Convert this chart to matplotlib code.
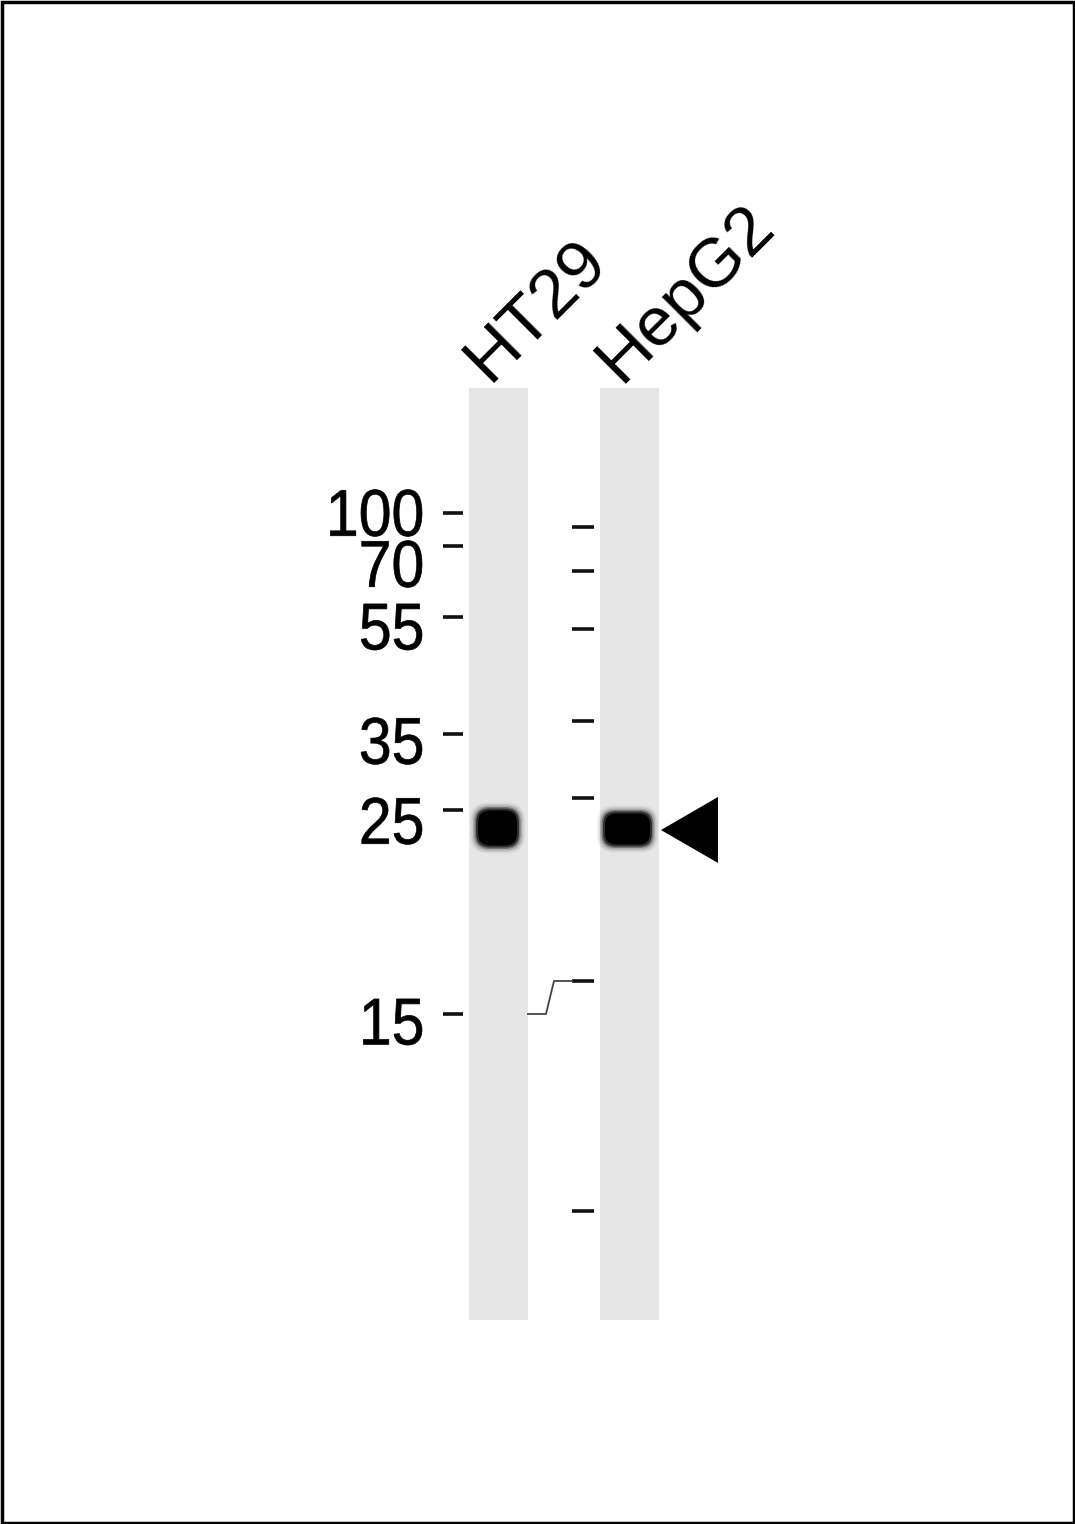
import matplotlib.pyplot as plt
from matplotlib.patches import Rectangle, FancyBboxPatch, Polygon, PathPatch
from matplotlib.textpath import TextPath
from matplotlib.font_manager import FontProperties
from matplotlib.transforms import Affine2D

# lanes
lane_names = ['HT29', 'HepG2']
lane_x = [469, 600]          # left edge of each lane (px)
lane_w = 59
lane_top, lane_bottom = 388, 1320

# molecular weight marker (left side, with labels)
mw_labels = ['100', '70', '55', '35', '25', '15']
mw_tick_y = [513, 546, 617, 734, 810, 1014]
mw_text_y = [513, 564, 627, 741, 821, 1022]

# marker ticks of second lane (unlabelled)
right_tick_y = [527, 571, 629, 721, 798, 981, 1211]

# bands: (lane index, centre y, width, height)
band_lane = [0, 1]
band_y = [828, 829]
band_w = [43, 49]
band_h = [39, 35]

W, H = 1075, 1524
fig = plt.figure(figsize=(W / 100, H / 100), dpi=100)
ax = fig.add_axes([0, 0, 1, 1])
ax.set_xlim(0, W)
ax.set_ylim(H, 0)
ax.axis('off')

font = 'Liberation Sans'
fp = FontProperties(family=font)


def stretched_text(x_right, y_mid, s, size=59, sy=1.12):
    # text as a path, right aligned, slightly taller than normal
    tp = TextPath((0, 0), s, size=size, prop=fp)
    bb = tp.get_extents()
    tr = (Affine2D().translate(-bb.x1, -(bb.y0 + bb.y1) / 2)
          .scale(1, -sy).translate(x_right, y_mid))
    ax.add_patch(PathPatch(tr.transform_path(tp), fc='black', ec='black', lw=0.5))


# frame
ax.add_patch(Rectangle((1.5, 1.5), W - 3, H - 3, fill=False, ec='black', lw=2.5))

# lanes
for x in lane_x:
    ax.add_patch(Rectangle((x, lane_top), lane_w, lane_bottom - lane_top,
                           fc='#e6e6e6', ec='none'))

# lane labels
for x, name in zip(lane_x, lane_names):
    ax.text(x + 20, lane_top - 4, name, rotation=45, rotation_mode='anchor',
            ha='left', va='baseline', fontsize=50, family=font)

# bands, drawn as stacked soft boxes
for li, y, w, h in zip(band_lane, band_y, band_w, band_h):
    cx = lane_x[li] + lane_w / 2 - (1 if li == 0 else 2)
    for grow, a in [(12, 0.05), (9, 0.08), (6, 0.15), (3, 0.3), (0, 0.6), (-4, 1.0)]:
        ww, hh = w + grow, h + grow
        pad = min(ww, hh) * 0.36
        ax.add_patch(FancyBboxPatch((cx - ww / 2 + pad, y - hh / 2 + pad),
                                    ww - 2 * pad, hh - 2 * pad,
                                    boxstyle='round,pad=%g' % pad,
                                    fc='black', ec='none', alpha=a))

# left marker ticks and labels
for lab, ty, yy in zip(mw_labels, mw_tick_y, mw_text_y):
    ax.plot([443, 463], [ty, ty], color='#111111', lw=2.6, solid_capstyle='butt')
    stretched_text(422, yy, lab)

# right marker ticks
for ty in right_tick_y:
    ax.plot([572, 594], [ty, ty], color='#111111', lw=2.6, solid_capstyle='butt')

# connector between the 15 kDa marks
ax.plot([528, 546, 554, 572], [mw_tick_y[-1], mw_tick_y[-1], right_tick_y[5], right_tick_y[5]],
        color='#444444', lw=1.3)

# arrowhead pointing to band
ax.add_patch(Polygon([[661, 830], [718, 797], [718, 863]], closed=True,
                     fc='black', ec='none'))

fig.savefig('out.png', dpi=100, facecolor='white')
